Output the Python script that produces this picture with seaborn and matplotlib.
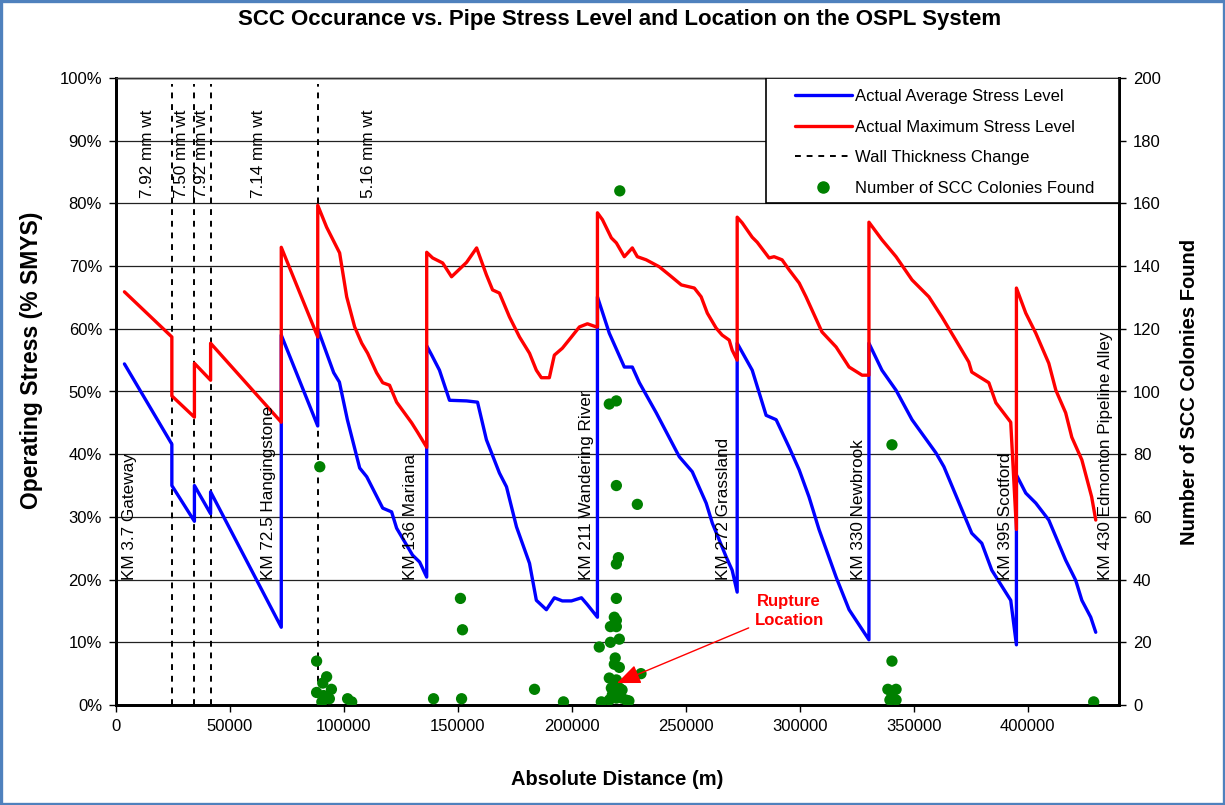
import matplotlib
matplotlib.use("Agg")
import matplotlib.pyplot as plt
import matplotlib.patches as mpatches
from matplotlib.lines import Line2D
from matplotlib.ticker import FuncFormatter
import pandas as pd
import seaborn as sns

# ---- average stress level along the line (m, % SMYS) ----
avg_distance = [3700, 24500, 24500, 34400, 34400, 41500, 41500, 72500, 72500, 88500, 88500,
                91500, 95500, 98000, 101500, 106900, 110000, 117000, 120900, 123100, 130100,
                133200, 136300, 136300,
                138500, 141900, 146300, 153800, 158600, 162500, 168200, 171300, 175700, 181400,
                184400, 188800, 192300, 195800, 199800, 204200, 206800, 211200, 211200,
                216400, 223000, 226500, 229600, 237000, 247100, 252800, 258900, 261600, 267700,
                270300, 272500, 272500,
                279100, 285200, 289600, 295300, 299700, 304000, 308400, 315900, 321600, 330300,
                330300,
                336000, 342200, 349200, 359700, 363200, 375400, 379800, 384200, 392500, 395000,
                395000,
                399100, 403500, 409200, 416600, 421000, 423700, 427600, 429800]
avg_stress = [54.4, 41.6, 35.0, 29.3, 35.0, 30.5, 34.0, 12.4, 59.0, 44.5, 60.0,
              57.0, 53.0, 51.5, 45.5, 37.8, 36.4, 31.4, 30.8, 28.2, 23.9,
              22.8, 20.4, 57.3,
              55.8, 53.4, 48.6, 48.5, 48.3, 42.3, 37.0, 34.8, 28.4, 22.6,
              16.7, 15.2, 17.1, 16.6, 16.6, 17.1, 16.0, 14.0, 65.1,
              59.3, 53.9, 53.9, 51.4, 46.6, 39.6, 37.2, 32.2, 29.0, 23.6,
              21.5, 18.0, 57.7,
              53.4, 46.2, 45.5, 41.1, 37.5, 33.2, 28.0, 20.4, 15.2, 10.4,
              57.7,
              53.4, 50.2, 45.5, 40.2, 38.0, 27.4, 25.8, 21.5, 16.7, 9.6,
              36.7,
              33.8, 32.2, 29.5, 23.1, 19.9, 16.7, 14.0, 11.6]

# ---- maximum stress level along the line (m, % SMYS) ----
max_distance = [3700, 24500, 24500, 34400, 34400, 41500, 41500, 72500, 72500, 88500, 88500,
                92400, 98100, 101200, 104700, 107800, 110400, 114300, 117000, 120000, 123100,
                129700, 132300, 136300, 136300,
                138900, 143300, 147200, 153800, 158200, 162500, 165200, 168200, 172600, 177000,
                181400, 184400, 186600, 190100, 192300, 195800, 199800, 203300, 206800, 210700,
                211200, 211200,
                213400, 217300, 219500, 223000, 226500, 228700, 232600, 238300, 242700, 248000,
                253700, 256700, 259400, 263300, 265900, 269000, 270300, 272500, 272500,
                274700, 279100, 281300, 286500, 288700, 292200, 295300, 299700, 302700, 309700,
                315900, 321600, 327300, 330300, 330300,
                336000, 342200, 349200, 356600, 362300, 368400, 374100, 375400, 382900, 386000,
                392500, 395000, 395000,
                399100, 403500, 409200, 412300, 416600, 419300, 423700, 428000, 429800]
max_stress = [65.9, 58.7, 49.3, 45.9, 54.5, 51.8, 57.7, 45.1, 73.0, 58.7, 79.7,
              76.2, 72.1, 65.1, 60.3, 57.7, 56.1, 53.0, 51.4, 51.0, 48.3,
              45.0, 43.5, 41.1, 72.2,
              71.3, 70.5, 68.3, 70.6, 72.9, 68.6, 66.2, 65.7, 61.9, 58.7,
              56.1, 53.4, 52.2, 52.2, 55.8, 56.9, 58.7, 60.3, 60.8, 60.3,
              60.3, 78.5,
              77.4, 74.5, 73.7, 71.5, 72.9, 71.5, 71.0, 69.9, 68.6, 67.0,
              66.5, 65.1, 62.5, 60.1, 59.0, 58.2, 56.6, 55.0, 77.8,
              76.9, 74.6, 73.8, 71.3, 71.5, 71.0, 69.4, 67.3, 65.1, 59.5,
              57.1, 53.9, 52.6, 52.6, 77.0,
              74.2, 71.5, 67.8, 65.1, 61.9, 58.2, 54.7, 53.1, 51.4, 48.2,
              45.1, 28.0, 66.5,
              62.5, 59.3, 54.5, 50.2, 46.6, 42.7, 39.1, 33.2, 29.5]

# ---- SCC colonies found (m, count) ----
colony_distance = [88000, 89400, 92400, 90700, 94500, 88000, 91100, 93600, 90300, 101600, 103400,
                   139300, 151100, 152000, 151600, 183600, 196300,
                   212000, 216400, 219500, 219500, 228700, 220400, 219500, 219500, 218600, 219500,
                   216900, 219500, 220800, 216900, 219000, 218600, 220800, 230300, 216400, 219500,
                   217300, 220800, 222000, 212900, 216400, 219500, 222000, 225000, 217700, 220800,
                   224000, 221000,
                   338600, 342200, 340400, 340400, 339500, 342200, 340400, 428900]
colony_count = [14, 76, 9, 7, 5, 4, 3, 2, 1, 2, 1,
                2, 34, 24, 2, 5, 1,
                18.5, 96, 97, 70, 64, 47, 45, 34, 28, 27,
                25, 25, 21, 20, 15, 13, 12, 10, 8.6, 8,
                5.4, 5.4, 4.8, 1, 1.6, 2.2, 2.2, 1.3, 3.2, 2.9,
                1.5, 164,
                5, 5, 83, 14, 1.6, 1.6, 3, 1]

# ---- wall thickness changes and labels ----
wt_change_distance = [24500, 34400, 41500, 88500]
wt_label_distance = [13600, 28900, 37300, 62700, 110900]
wt_labels = ["7.92 mm wt", "7.50 mm wt", "7.92 mm wt", "7.14 mm wt", "5.16 mm wt"]

# ---- station labels ----
station_distance = [6000, 66900, 129100, 206200, 266600, 325800, 390200, 434000]
station_labels = ["KM 3.7 Gateway", "KM 72.5 Hangingstone", "KM 136 Mariana",
                  "KM 211 Wandering River", "KM 272 Grassland", "KM 330 Newbrook",
                  "KM 395 Scotford", "KM 430 Edmonton Pipeline Alley"]

# ---- rupture marker ----
rupture_distance = 219800
rupture_count = 7.0

stress_ticks = list(range(0, 101, 10))
count_ticks = list(range(0, 201, 20))
distance_ticks = list(range(0, 400001, 50000))

BLUE = "#0000FF"
RED = "#FF0000"
GREEN = "#008000"

sns.set_theme(style="ticks")
plt.rcParams["font.family"] = ["Liberation Sans", "DejaVu Sans"]
plt.rcParams["text.color"] = "black"
plt.rcParams["axes.labelcolor"] = "black"

fig = plt.figure(figsize=(12.25, 8.05), dpi=100)
fig.patch.set_facecolor("white")
ax = fig.add_axes([116 / 1225, 1 - 705 / 805, (1119 - 116) / 1225, (705 - 78) / 805])
ax2 = ax.twinx()

avg_df = pd.DataFrame({"distance": avg_distance, "stress": avg_stress})
max_df = pd.DataFrame({"distance": max_distance, "stress": max_stress})
col_df = pd.DataFrame({"distance": colony_distance, "count": colony_count})

# wall thickness change markers
ax.vlines(wt_change_distance, 0, 99, colors="black", linestyles=(0, (3, 3)), lw=1.4, zorder=1.5)

sns.lineplot(data=avg_df, x="distance", y="stress", ax=ax, color=BLUE, lw=2.4,
             estimator=None, sort=False, legend=False, zorder=2)
sns.lineplot(data=max_df, x="distance", y="stress", ax=ax, color=RED, lw=2.4,
             estimator=None, sort=False, legend=False, zorder=2.1)

for x, t in zip(wt_label_distance, wt_labels):
    ax.text(x, 80.9, t, rotation=90, ha="center", va="bottom", fontsize=12.3, color="black")
for x, t in zip(station_distance, station_labels):
    ax.text(x, 19.9, t, rotation=90, ha="center", va="bottom", fontsize=12.3, color="black",
            zorder=3)

sns.scatterplot(data=col_df, x="distance", y="count", ax=ax2, color=GREEN, s=66,
                edgecolor="none", linewidth=0, legend=False, zorder=3)

ax2.annotate("Rupture\nLocation", xy=(rupture_distance, rupture_count),
             xytext=(295300, 30), textcoords="data", ha="center", va="center",
             fontsize=12, fontweight="bold", color=RED, linespacing=1.4,
             arrowprops=dict(arrowstyle="-|>,head_length=1.2,head_width=0.5",
                             color=RED, lw=1.0, shrinkA=2, shrinkB=0),
             zorder=6)

# axes ranges and ticks
ax.set_xlim(0, 440000)
ax.set_ylim(0, 100)
ax2.set_ylim(0, 200)
ax.set_xticks(distance_ticks)
ax.xaxis.set_major_formatter(FuncFormatter(lambda v, _: f"{v:.0f}"))
ax.set_yticks(stress_ticks)
ax.yaxis.set_major_formatter(FuncFormatter(lambda v, _: f"{v:.0f}%"))
ax2.set_yticks(count_ticks)

ax.set_axisbelow(True)
ax.yaxis.grid(True, color="#222222", lw=0.9)
ax.xaxis.grid(False)

ax.tick_params(axis="both", direction="out", length=5, width=1, labelsize=12,
               colors="black", pad=5)
ax2.tick_params(axis="y", direction="out", length=5, width=1, labelsize=12,
                colors="black", pad=5)

for a in (ax, ax2):
    for side in ("left", "right", "bottom"):
        a.spines[side].set_linewidth(2.0)
        a.spines[side].set_color("black")
    a.spines["top"].set_linewidth(1.0)
    a.spines["top"].set_color("#333333")

ax.set_xlabel("Absolute Distance (m)", fontsize=14.5, fontweight="bold")
ax.set_ylabel("Operating Stress (% SMYS)", fontsize=16.5, fontweight="bold")
ax2.set_ylabel("Number of SCC Colonies Found", fontsize=14.5, fontweight="bold")
ax2.set_xlabel("")
ax.xaxis.set_label_coords(0.5, -0.103)
ax.yaxis.set_label_coords(-0.073, 0.55)
ax2.yaxis.set_label_coords(1.061, 0.5)

# legend box with entries
legend_box = mpatches.Rectangle((0.648, 0.8), 0.352, 0.2, transform=ax2.transAxes,
                                facecolor="white", edgecolor="black", lw=1.2, zorder=4)
ax2.add_patch(legend_box)
handles = [Line2D([], [], color=BLUE, lw=2.4),
           Line2D([], [], color=RED, lw=2.4),
           Line2D([], [], color="black", lw=1.4, ls=(0, (3, 3))),
           Line2D([], [], ls="", marker="o", color=GREEN, markersize=8)]
labels = ["Actual Average Stress Level", "Actual Maximum Stress Level",
          "Wall Thickness Change", "Number of SCC Colonies Found"]
leg = ax2.legend(handles, labels, loc="upper left", bbox_to_anchor=(0.677, 0.982),
                 frameon=False, fontsize=12, handlelength=3.4, handletextpad=0.2,
                 labelspacing=0.93, borderpad=0, borderaxespad=0)
leg.set_zorder(5)

fig.text(620 / 1225, 1 - 20 / 805,
         "SCC Occurance vs. Pipe Stress Level and Location on the OSPL System",
         ha="center", va="center", fontsize=16, fontweight="bold")

fig.patches.append(mpatches.Rectangle((0.001, 0.0015), 0.998, 0.997, transform=fig.transFigure,
                                      fill=False, edgecolor="#4F81BD", lw=2.4))

fig.savefig("out.png", dpi=100, facecolor="white")
